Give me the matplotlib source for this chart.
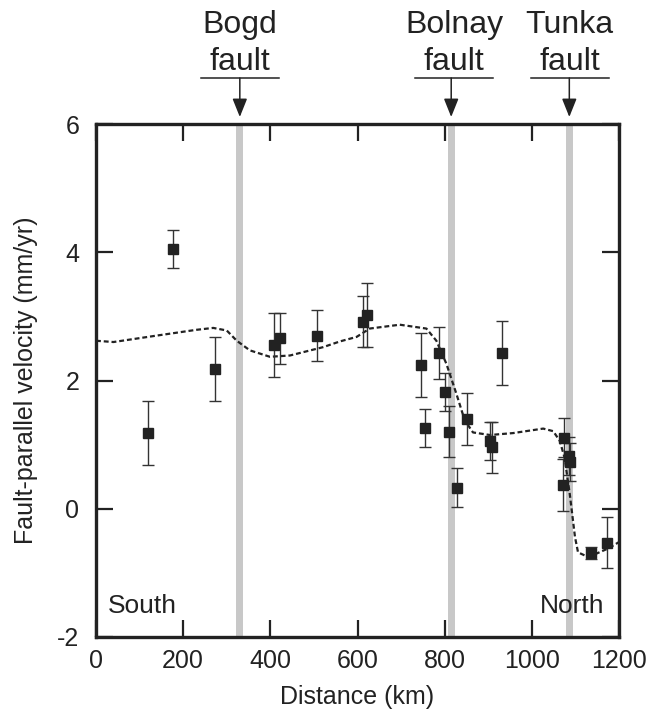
import numpy as np
import matplotlib
matplotlib.use("Agg")
import matplotlib.pyplot as plt
from matplotlib.transforms import blended_transform_factory

plt.rcParams['font.family'] = ['Liberation Sans', 'DejaVu Sans']
plt.rcParams['axes.unicode_minus'] = False

# GPS stations: distance (km), fault-parallel velocity (mm/yr), 1-sigma
dist = [120, 177, 274, 409, 423, 507, 613, 622, 746, 755, 787, 801,
        810, 829, 852, 903, 909, 932, 1072, 1074, 1085, 1087, 1135, 1173]
vel = [1.18, 4.05, 2.18, 2.56, 2.66, 2.70, 2.92, 3.02, 2.24, 1.26, 2.43, 1.82,
       1.20, 0.33, 1.40, 1.06, 0.96, 2.43, 0.37, 1.11, 0.82, 0.73, -0.69, -0.53]
err = [0.5, 0.3, 0.5, 0.5, 0.4, 0.4, 0.4, 0.5, 0.5, 0.3, 0.4, 0.3,
       0.4, 0.3, 0.4, 0.3, 0.4, 0.5, 0.4, 0.3, 0.3, 0.3, 0.1, 0.4]

# model curve (dashed)
model_x = [0, 40, 139, 230, 269, 300, 323, 353, 399, 445, 521, 560, 598, 628,
           697, 758, 781, 804, 827, 846, 865, 904, 957, 1026, 1049, 1064,
           1075, 1087, 1099, 1106, 1122, 1148, 1175, 1200]
model_y = [2.62, 2.60, 2.70, 2.79, 2.82, 2.78, 2.62, 2.47, 2.37, 2.39, 2.52,
           2.61, 2.68, 2.81, 2.87, 2.81, 2.62, 2.26, 1.79, 1.38, 1.19, 1.15,
           1.18, 1.25, 1.21, 1.06, 0.80, 0.23, -0.44, -0.68, -0.73, -0.70,
           -0.62, -0.52]

faults = ["Bogd", "Bolnay", "Tunka"]
fault_x = [330, 815, 1086]
label_x = [330, 822, 1087]

fig = plt.figure(figsize=(6.5, 7.1), dpi=100)
ax = fig.add_axes([96 / 650, 1 - 637 / 710, 523 / 650, 513 / 710])

ink = '#222222'
for fx in fault_x:
    ax.axvspan(fx - 8, fx + 8, color='#c8c8c8', lw=0, zorder=0)

ax.plot(model_x, model_y, color=ink, lw=1.6, dashes=(2.2, 1.3), zorder=2)
ax.errorbar(dist, vel, yerr=err, fmt='s', color=ink, ms=6.5, mec=ink,
            ecolor='#333333', elinewidth=1.0, capsize=4.5, capthick=1.0, zorder=3)

ax.set_xlim(0, 1200)
ax.set_ylim(-2, 6)
ax.set_xticks(range(0, 1201, 200))
ax.set_yticks(range(-2, 7, 2))
ax.tick_params(direction='in', length=12, width=1.6, labelsize=18, colors=ink,
               top=True, right=True)
ax.tick_params(axis='x', pad=9)
ax.tick_params(axis='y', pad=12)
for s in ax.spines.values():
    s.set_linewidth(2.4)
    s.set_color(ink)

ax.set_xlabel('Distance (km)', fontsize=18, color=ink, labelpad=8)
ax.set_ylabel('Fault-parallel velocity (mm/yr)', fontsize=18, color=ink, labelpad=14)

ax.text(27, -1.63, 'South', fontsize=19, color=ink, va='baseline')
ax.text(1167, -1.63, 'North', fontsize=19, color=ink, va='baseline', ha='right')

# fault labels above the frame
tr = blended_transform_factory(ax.transData, ax.transAxes)
for name, fx, lx in zip(faults, fault_x, label_x):
    ax.text(lx, (637 - 33) / 513, name, transform=tr, ha='center', va='baseline',
            fontsize=23, color=ink, clip_on=False)
    ax.text(lx, (637 - 70) / 513, 'fault', transform=tr, ha='center', va='baseline',
            fontsize=23, color=ink, clip_on=False)
    yl = (637 - 78) / 513
    ax.plot([lx - 89, lx + 89], [yl, yl], transform=tr, color=ink, lw=1.1,
            clip_on=False)
    ax.annotate('', xy=(fx, (637 - 117) / 513), xytext=(fx, yl),
                xycoords=tr, textcoords=tr,
                arrowprops=dict(arrowstyle='-|>,head_length=0.45,head_width=0.18',
                                mutation_scale=25, color=ink, lw=1.1,
                                shrinkA=0, shrinkB=0))

plt.savefig('out.png', dpi=100)
